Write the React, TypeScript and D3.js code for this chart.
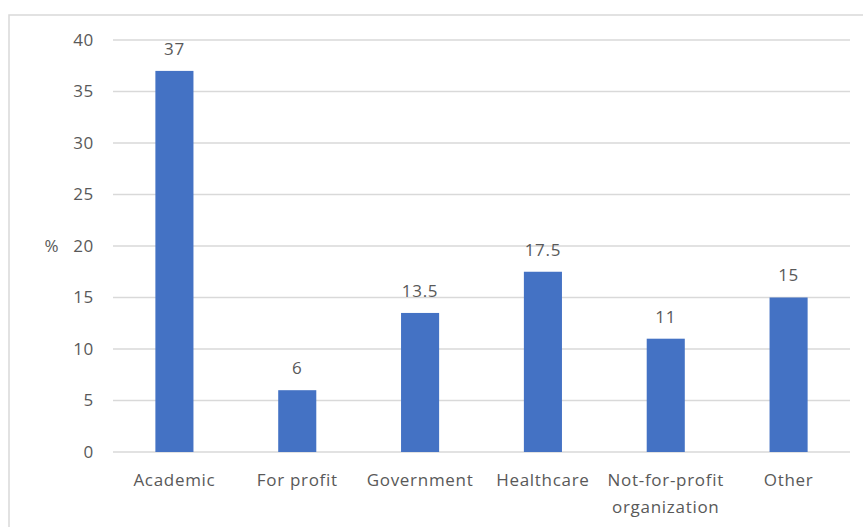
import React from "react";
import * as d3 from "d3";

const categories = ["Academic", "For profit", "Government", "Healthcare", "Not-for-profit organization", "Other"];
const categoryLines = [["Academic"], ["For profit"], ["Government"], ["Healthcare"], ["Not-for-profit", "organization"], ["Other"]];
const values = [37, 6, 13.5, 17.5, 11, 15];
const yTicks = [0, 5, 10, 15, 20, 25, 30, 35, 40];

const W = 863;
const H = 527;
const left = 113;
const right = 850;
const top = 40;
const bottom = 452;
const font = "'Open Sans', 'Noto Sans', sans-serif";
const textColor = "#595959";
const fs = 17;
const ls = 0.7;

export default function App() {
  const x = d3.scaleBand<string>().domain(categories).range([left, right]).padding(0);
  const y = d3.scaleLinear().domain([0, 40]).range([bottom, top]);
  const barW = x.bandwidth() * 0.31;
  const tp = { fontFamily: font, fontSize: fs, fill: textColor, letterSpacing: ls };
  return (
    <svg width={W} height={H} style={{ position: "absolute", left: 0, top: 0 }}>
      <rect x={0} y={0} width={W} height={H} fill="#fff" />
      <rect x={9} y={15} width={W + 20} height={H + 20} fill="none" stroke="#d9d9d9" strokeWidth={1.5} />
      {yTicks.map((t) => (
        <g key={t}>
          <line x1={left} x2={right} y1={y(t)} y2={y(t)} stroke="#d9d9d9" strokeWidth={1.3} />
          <text x={94} y={y(t)} dy="0.35em" textAnchor="end" {...tp}>
            {t}
          </text>
        </g>
      ))}
      <text x={52} y={y(20)} dy="0.35em" textAnchor="middle" {...tp}>
        %
      </text>
      {categories.map((c, i) => {
        const cx = (x(c) as number) + x.bandwidth() / 2;
        return (
          <g key={c}>
            <rect x={cx - barW / 2} y={y(values[i])} width={barW} height={y(0) - y(values[i])} fill="#4472C4" />
            <text x={cx} y={y(values[i]) - 22} dy="0.35em" textAnchor="middle" {...tp}>
              {values[i]}
            </text>
            {categoryLines[i].map((ln, j) => (
              <text key={j} x={cx} y={480 + j * 27} dy="0.35em" textAnchor="middle" {...tp}>
                {ln}
              </text>
            ))}
          </g>
        );
      })}
    </svg>
  );
}
